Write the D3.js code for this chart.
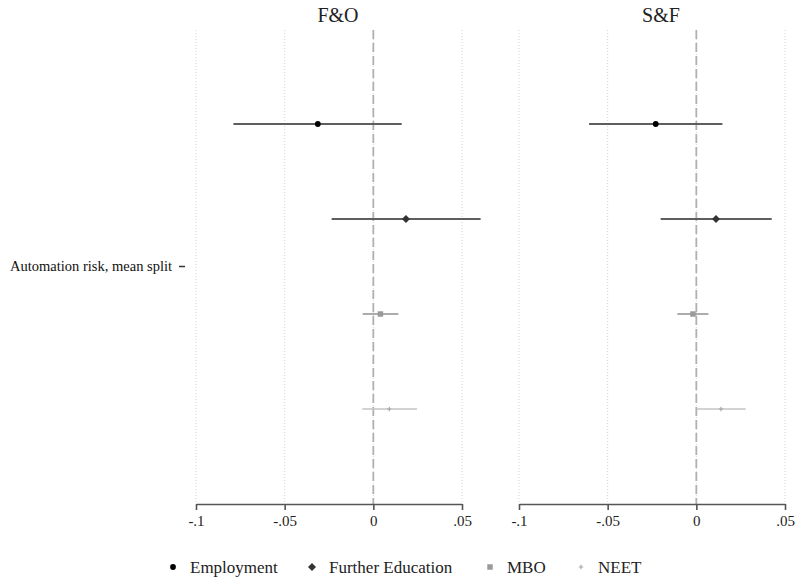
<!DOCTYPE html>
<html>
<head>
<meta charset="utf-8">
<script src="https://cdn.jsdelivr.net/npm/d3@7"></script>
<style>
  html, body { margin: 0; padding: 0; background: #fff; }
  svg { display: block; }
  svg text { font-family: "Liberation Serif", "Times New Roman", serif !important; }
</style>
</head>
<body>
<svg id="chart" width="796" height="579"></svg>
<script>
// Coefficient plot: automation risk (mean split) by outcome, two panels
const panels = ["F&O", "S&F"];
const outcomes = ["Employment", "Further Education", "MBO", "NEET"];
const rowLabel = "Automation risk, mean split";

// point estimates and confidence bounds, one value per outcome
const estFO = [-0.0313, 0.0184, 0.0040, 0.0090];
const lowFO = [-0.0789, -0.0235, -0.0060, -0.0062];
const highFO = [0.0160, 0.0605, 0.0141, 0.0246];

const estSF = [-0.0229, 0.0111, -0.0019, 0.0139];
const lowSF = [-0.0605, -0.0201, -0.0107, 0.0002];
const highSF = [0.0147, 0.0425, 0.0068, 0.0278];

const tickValues = [-0.1, -0.05, 0, 0.05];
const tickLabels = ["-.1", "-.05", "0", ".05"];

const svg = d3.select("#chart");

const style = {
  "Employment":        { line: "#5e5e5e", mark: "#000000", lw: 2.2 },
  "Further Education": { line: "#5e5e5e", mark: "#333333", lw: 2.2 },
  "MBO":               { line: "#acacac", mark: "#9a9a9a", lw: 2.0 },
  "NEET":              { line: "#c4c4c4", mark: "#a8a8a8", lw: 1.6 }
};

function markerPath(name) {
  if (name === "Employment") return d3.symbol(d3.symbolCircle, 26)();
  if (name === "Further Education") return "M0,-4L4,0L0,4L-4,0Z";
  if (name === "MBO") return d3.symbol(d3.symbolSquare, 30)();
  return "M-2.2,-0.6H-0.6V-2.2H0.6V-0.6H2.2V0.6H0.6V2.2H-0.6V0.6H-2.2Z";
}

const y = d3.scalePoint().domain(outcomes).range([124, 409]);
const plotTop = 30, axisY = 504;

const panelData = [
  { title: panels[0], est: estFO, low: lowFO, high: highFO, range: [196, 462] },
  { title: panels[1], est: estSF, low: lowSF, high: highSF, range: [519, 785] }
];

panelData.forEach(p => {
  const x = d3.scaleLinear().domain([-0.1, 0.05]).range(p.range);
  const g = svg.append("g");

  // dotted vertical grid
  g.selectAll("line.grid").data(tickValues).join("line")
    .attr("x1", d => x(d)).attr("x2", d => x(d))
    .attr("y1", plotTop).attr("y2", axisY)
    .attr("stroke", "#d4d4d4").attr("stroke-width", 1)
    .attr("stroke-dasharray", "1,2");

  // zero reference line
  g.append("line")
    .attr("x1", x(0)).attr("x2", x(0))
    .attr("y1", plotTop).attr("y2", axisY)
    .attr("stroke", "#b0b0b0").attr("stroke-width", 1.8)
    .attr("stroke-dasharray", "9,4");

  // confidence intervals
  outcomes.forEach((o, i) => {
    g.append("line")
      .attr("x1", x(p.low[i])).attr("x2", x(p.high[i]))
      .attr("y1", y(o)).attr("y2", y(o))
      .attr("stroke", style[o].line).attr("stroke-width", style[o].lw);
  });
  // point estimates
  outcomes.forEach((o, i) => {
    g.append("path")
      .attr("d", markerPath(o))
      .attr("transform", `translate(${x(p.est[i])},${y(o)})`)
      .attr("fill", style[o].mark);
  });

  // x axis
  const axis = d3.axisBottom(x)
    .tickValues(tickValues)
    .tickFormat((d, i) => tickLabels[i])
    .tickSize(6).tickSizeOuter(0).tickPadding(5);
  const ag = g.append("g").attr("transform", `translate(0,${axisY})`).call(axis)
    .attr("font-family", null).attr("font-size", null);
  ag.select(".domain").attr("stroke", "#555").attr("stroke-width", 1.6);
  ag.selectAll(".tick line").attr("stroke", "#555").attr("stroke-width", 1.6);
  ag.selectAll(".tick text").attr("font-size", 15).attr("fill", "#222");

  // panel title
  g.append("text")
    .attr("x", (p.range[0] + p.range[1]) / 2 + 9)
    .attr("y", 22)
    .attr("text-anchor", "middle")
    .attr("font-size", 20).attr("fill", "#222")
    .text(p.title);
});

// row label with its tick
const rowY = (y(outcomes[0]) + y(outcomes[outcomes.length - 1])) / 2;
svg.append("line")
  .attr("x1", 179).attr("x2", 185).attr("y1", rowY).attr("y2", rowY)
  .attr("stroke", "#333").attr("stroke-width", 1.5);
svg.append("text")
  .attr("x", 172).attr("y", rowY + 4.5)
  .attr("text-anchor", "end")
  .attr("font-size", 14.5).attr("fill", "#111")
  .text(rowLabel);

// legend
const legendX = [173, 312, 490, 581];
const legY = 567;
const lg = svg.append("g");
outcomes.forEach((o, i) => {
  lg.append("path")
    .attr("d", markerPath(o))
    .attr("transform", `translate(${legendX[i]},${legY})`)
    .attr("fill", style[o].mark);
  lg.append("text")
    .attr("x", legendX[i] + 17).attr("y", legY + 5.5)
    .attr("font-size", 17).attr("fill", "#222")
    .text(o);
});
</script>
</body>
</html>
